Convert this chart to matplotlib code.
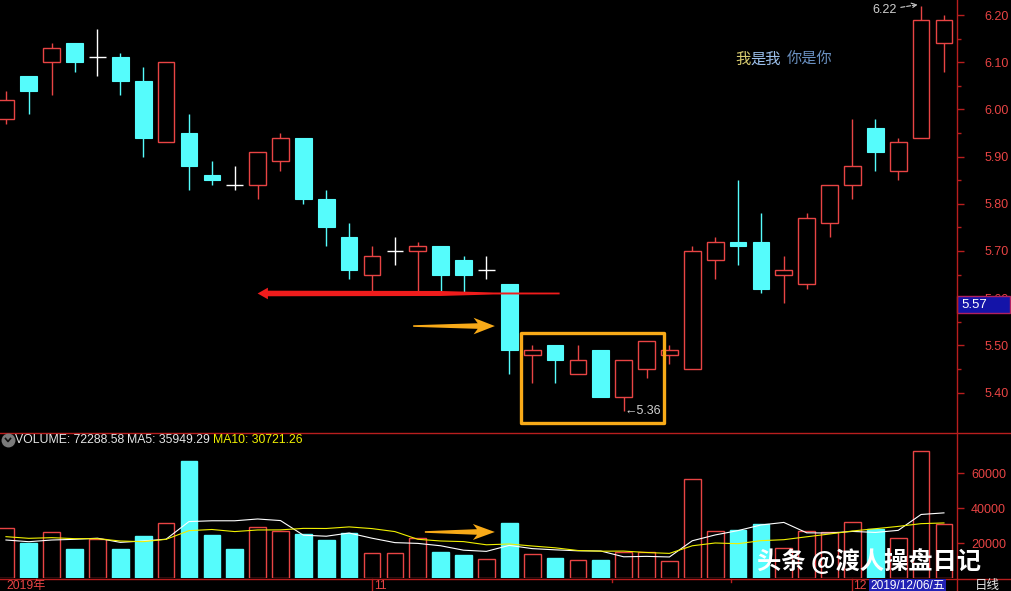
import matplotlib.pyplot as plt
import matplotlib.transforms as mtransforms
from matplotlib.patches import Rectangle, Polygon
from matplotlib.lines import Line2D
import numpy as np

plt.rcParams['font.family'] = ['Liberation Sans', 'Noto Sans CJK SC', 'DejaVu Sans']

# daily k-line, last bar 2019/12/06
opens = [5.98, 6.07, 6.10, 6.14, 6.11, 6.11, 6.06, 5.93, 5.95, 5.86,
         5.84, 5.84, 5.89, 5.94, 5.81, 5.73, 5.65, 5.70, 5.70, 5.71,
         5.68, 5.66, 5.63, 5.48, 5.50, 5.44, 5.49, 5.39, 5.45, 5.48,
         5.45, 5.68, 5.72, 5.72, 5.65, 5.63, 5.76, 5.84, 5.96, 5.87,
         5.94, 6.14]
highs = [6.04, 6.07, 6.14, 6.14, 6.17, 6.12, 6.09, 6.10, 5.99, 5.89,
         5.88, 5.91, 5.95, 5.94, 5.83, 5.76, 5.71, 5.73, 5.72, 5.71,
         5.69, 5.69, 5.63, 5.50, 5.50, 5.50, 5.49, 5.47, 5.51, 5.50,
         5.71, 5.73, 5.85, 5.78, 5.69, 5.78, 5.84, 5.98, 5.98, 5.94,
         6.22, 6.20]
lows = [5.97, 5.99, 6.03, 6.08, 6.07, 6.03, 5.90, 5.93, 5.83, 5.84,
        5.83, 5.81, 5.87, 5.80, 5.71, 5.64, 5.61, 5.67, 5.61, 5.61,
        5.61, 5.64, 5.44, 5.42, 5.42, 5.44, 5.39, 5.36, 5.43, 5.46,
        5.45, 5.64, 5.67, 5.61, 5.59, 5.62, 5.73, 5.81, 5.87, 5.85,
        5.94, 6.08]
closes = [6.02, 6.04, 6.13, 6.10, 6.11, 6.06, 5.94, 6.10, 5.88, 5.85,
          5.84, 5.91, 5.94, 5.81, 5.75, 5.66, 5.69, 5.70, 5.71, 5.65,
          5.65, 5.66, 5.49, 5.49, 5.47, 5.47, 5.39, 5.47, 5.51, 5.49,
          5.70, 5.72, 5.71, 5.62, 5.66, 5.77, 5.84, 5.88, 5.91, 5.93,
          6.19, 6.19]
volumes = [28500, 20000, 26300, 16600, 22300, 16600, 24000, 31400, 66900, 24600,
           16600, 29100, 26900, 25100, 21700, 25700, 14300, 14300, 22900, 14900,
           13100, 10900, 31400, 13700, 11400, 10300, 10300, 14900, 14900, 9700,
           56600, 26900, 27400, 30900, 17000, 26900, 26300, 32000, 28000, 22900,
           72289, 30900]
ma5 = [21710, 20740, 21710, 22100, 22740, 20360, 21160, 22180, 32240, 32700,
       32700, 33720, 32820, 24460, 23880, 25700, 22740, 20220, 19780, 18420,
       15900, 15220, 18640, 16800, 16100, 15540, 15420, 12120, 12360, 12020,
       21280, 24600, 27100, 30300, 31760, 25820, 25700, 26620, 26040, 27220,
       36298, 37218]
ma10 = [23620, 22670, 23050, 22480, 22480, 21140, 20760, 22100, 27050, 27720,
        26530, 27440, 27500, 28350, 28290, 29200, 28230, 26520, 22120, 21150,
        20800, 18980, 19430, 18290, 17260, 15720, 15320, 15380, 14580, 14060,
        18410, 20010, 19610, 21330, 21890, 23550, 25150, 26860, 28170, 29490,
        31060, 31460]
price_ticks = [5.40, 5.50, 5.60, 5.70, 5.80, 5.90, 6.00, 6.10, 6.20]
vol_ticks = [20000, 40000, 60000]

RED = '#e84444'
CYAN = '#55fcfc'
FRAME = '#b81e1e'
ORANGE = '#f8aa18'

W, H = 1012, 591
fig = plt.figure(figsize=(W / 100, H / 100), dpi=100, facecolor='black')


def px_axes(x0, y0, x1, y1):
    return fig.add_axes([x0 / W, 1 - y1 / H, (x1 - x0) / W, (y1 - y0) / H])


def ftext(x, y, s, **kw):
    return fig.text(x / W, 1 - y / H, s, **kw)


ax = px_axes(0, 0, 957, 432)
axv = px_axes(0, 432, 957, 578)
for a in (ax, axv):
    a.set_facecolor('black')
    for sp in a.spines.values():
        sp.set_visible(False)
    a.set_xlim(-0.26, 41.57)
    a.set_xticks([])
ax.set_ylim(5.3165, 6.2318)
axv.set_ylim(0, 83430)

n = len(opens)
x = np.arange(n)
bw = 0.73

# candles
for i in range(n):
    o, h, l, c = opens[i], highs[i], lows[i], closes[i]
    if c > o:
        ax.vlines(i, c, h, color=RED, lw=1)
        ax.vlines(i, l, o, color=RED, lw=1)
        ax.add_patch(Rectangle((i - bw / 2, o), bw, c - o, facecolor='black',
                               edgecolor=RED, lw=1, zorder=3))
    elif c < o:
        ax.vlines(i, l, h, color=CYAN, lw=1)
        ax.add_patch(Rectangle((i - bw / 2, c), bw, o - c, facecolor=CYAN,
                               edgecolor=CYAN, lw=0.8, zorder=3))
    else:
        ax.vlines(i, l, h, color='white', lw=1)
        ax.hlines(c, i - bw / 2, i + bw / 2, color='white', lw=1)

# volume bars
faces, edges = [], []
for i in range(n):
    up = closes[i] > opens[i] or (closes[i] == opens[i] and closes[i] >= closes[i - 1])
    faces.append('black' if up else CYAN)
    edges.append(RED if up else CYAN)
axv.bar(x, volumes, width=bw, facecolor=faces, edgecolor=edges, linewidth=1, zorder=2)
axv.plot(x, ma5, color='white', lw=0.8, zorder=3)
axv.plot(x, ma10, color='#f0f000', lw=0.8, zorder=3)

# right axes
minor = [5.45, 5.55, 5.65, 5.75, 5.85, 5.95, 6.05, 6.15]
ax.yaxis.tick_right()
ax.set_yticks(price_ticks, labels=[f'{p:.2f}' for p in price_ticks])
ax.set_yticks(minor, minor=True)
ax.tick_params(axis='y', which='major', colors=FRAME, labelcolor=RED, length=5,
               width=1, pad=15, labelsize=9)
ax.tick_params(axis='y', which='minor', colors=FRAME, length=3, width=1)
axv.yaxis.tick_right()
axv.set_yticks(vol_ticks, labels=[str(v) for v in vol_ticks])
axv.tick_params(axis='y', colors=FRAME, labelcolor=RED, length=5, width=1,
                pad=5, labelsize=9)

# frame lines
for y in (432.5, 578.5):
    fig.add_artist(Line2D([0, 1], [1 - y / H] * 2, color=FRAME, lw=1))
fig.add_artist(Line2D([957.5 / W] * 2, [0, 1], color=FRAME, lw=1))

# support line arrow (red)
s = 5.61
yp = (6.2318 - 5.3165) / 432
up_pts = [(11.0, s), (11.45, s + 5.8 * yp), (11.45, s + 2.8 * yp), (19.0, s + 2.5 * yp),
          (21.3, s + 1.0 * yp), (24.2, s + 0.9 * yp)]
low_pts = [(px_, 2 * s - py_) for px_, py_ in reversed(up_pts[1:])]
ax.add_patch(Polygon(up_pts + low_pts, closed=True, facecolor='#f01c1c',
                     edgecolor='none', zorder=5))


def orange_arrow(a, x_tail, x_base, x_tip, y0, unit, head):
    pts = [(x_tail, y0 - 0.8 * unit), (x_tail, y0 + 0.8 * unit),
           (x_base, y0 + 2.8 * unit), (x_base - 0.18, y0 + head * unit),
           (x_tip, y0), (x_base - 0.18, y0 - head * unit),
           (x_base, y0 - 2.8 * unit)]
    a.add_patch(Polygon(pts, closed=True, facecolor=ORANGE, edgecolor='none', zorder=6))


orange_arrow(ax, 17.8, 20.62, 21.37, 5.541, yp, 8.3)
orange_arrow(axv, 18.31, 20.59, 21.37, 26300, 83430 / 146, 8.0)

# box around the consolidation
ax.add_patch(Rectangle((22.5, 5.336), 6.25, 0.19, facecolor='none', edgecolor=ORANGE,
                       lw=2.4, joinstyle='round', zorder=6))

# high / low marks
ax.annotate('6.22', xy=(39.85, 6.222), xytext=(38.4, 6.2106), color='#d0d0d0',
            fontsize=9, ha='center', va='center',
            arrowprops=dict(arrowstyle='->', ls='--', color='#d0d0d0', lw=0.8,
                            shrinkA=1, shrinkB=0))
ax.text(27.05, 5.362, '←5.36', color='#d0d0d0', fontsize=9, ha='left', va='center',
        family=['Liberation Sans', 'DejaVu Sans'])

# current price box on the axis
blend = mtransforms.blended_transform_factory(ax.transAxes, ax.transData)
ax.add_patch(Rectangle((1.0, 5.5686), 53 / 957, 0.036, transform=blend, facecolor='#1414a8',
                       edgecolor='#b02060', lw=1, clip_on=False, zorder=10))
ax.text(961 / 957, 5.5866, '5.57', transform=blend, color='white', fontsize=9.5,
        ha='left', va='center', clip_on=False, zorder=11)

# text in chart
ftext(735, 60, '我', color='#d8cc70', fontsize=11, va='center')
ftext(750, 60, '是我', color='#9cc0ec', fontsize=11, va='center')
ftext(787, 60, '你是你', color='#6a90c0', fontsize=11, va='center')

# volume title
fig.add_artist(Line2D([8 / W], [1 - 440 / H], marker='o', ms=9, color='#7a7a7a'))
fig.add_artist(Line2D([5.5 / W, 8 / W, 10.5 / W], [1 - 438.5 / H, 1 - 441.5 / H, 1 - 438.5 / H],
                      color='#101010', lw=1.2))
ftext(15, 440, 'VOLUME: 72288.58', color='#e6e6e6', fontsize=8.8, va='center')
ftext(127, 440, 'MA5: 35949.29', color='#e6e6e6', fontsize=8.8, va='center')
ftext(213, 440, 'MA10: 30721.26', color='#f0f000', fontsize=8.8, va='center')

# bottom date row
bl = mtransforms.blended_transform_factory(axv.transData, fig.transFigure)
for xi, lab in ((16, '11'), (36.97, '12')):
    fig.add_artist(Line2D([xi, xi], [0, 12.5 / H], transform=bl, color=FRAME, lw=1))
    fig.text(xi + 0.08, 1 - 586 / H, lab, transform=bl, color=RED, fontsize=8.7, va='center')
for xi in (26.5, 31.7):
    fig.add_artist(Line2D([xi, xi], [9.5 / H, 12.5 / H], transform=bl, color=FRAME, lw=1))
ftext(6, 586, '2019年', color=RED, fontsize=8.7, va='center')
ftext(870, 586, '2019/12/06/五', color='white', fontsize=8.6, va='center',
      bbox=dict(boxstyle='square,pad=0.12', facecolor='#2222b4', edgecolor='none'))
ftext(975, 586, '日线', color='#e6e6e6', fontsize=9, va='center')

# watermark
ftext(757, 561, '头条 @渡人操盘日记', color='white', fontsize=17.5, fontweight='bold',
      va='center', family=['Noto Sans CJK SC', 'DejaVu Sans'], zorder=20)

fig.savefig('out.png', dpi=100, facecolor='black')
